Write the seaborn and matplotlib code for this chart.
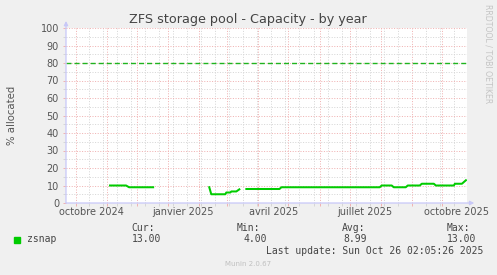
import numpy as np
import pandas as pd
import matplotlib
matplotlib.use("Agg")
import matplotlib.pyplot as plt
import matplotlib.dates as mdates
from matplotlib.patches import Rectangle
from matplotlib.transforms import blended_transform_factory
import seaborn as sns

# ---------------- data ----------------
title = "ZFS storage pool - Capacity - by year"
ylabel = "% allocated"
series_name = "zsnap"

seg1_dates = ["2024-11-04", "2024-11-20", "2024-11-23", "2024-12-17"]
seg1_values = [10, 10, 9, 9]

seg2_dates = ["2025-02-11", "2025-02-13", "2025-02-27", "2025-02-28",
              "2025-03-04", "2025-03-05", "2025-03-10", "2025-03-13"]
seg2_values = [9, 5, 5, 6, 6, 6.6, 6.6, 7.8]

seg3_dates = ["2025-03-20", "2025-04-22", "2025-04-24", "2025-07-31",
              "2025-08-02", "2025-08-12", "2025-08-14", "2025-08-26",
              "2025-08-28", "2025-09-09", "2025-09-11", "2025-09-23",
              "2025-09-25", "2025-10-13", "2025-10-14", "2025-10-21",
              "2025-10-25"]
seg3_values = [8, 8, 9, 9,
               10, 10, 9, 9,
               10, 10, 11, 11,
               10, 10, 11, 11,
               13]

warning_level = 80
x_start = "2024-09-21 02:05:26"
x_end = "2025-10-26 02:05:26"
y_major = list(range(0, 101, 10))
y_minor = list(range(5, 100, 10))
x_label_dates = ["2024-10-16", "2025-01-16", "2025-04-16", "2025-07-16", "2025-10-16"]
x_label_texts = ["octobre 2024", "janvier 2025", "avril 2025", "juillet 2025", "octobre 2025"]
minor_x_start = "2024-10-14"

stat_heads = ["Cur:", "Min:", "Avg:", "Max:"]
stat_values = ["13.00", "4.00", "8.99", "13.00"]
last_update = "Last update: Sun Oct 26 02:05:26 2025"
footer = "Munin 2.0.67"
watermark = "RRDTOOL / TOBI OETIKER"

# ---------------- build frame ----------------
frames = []
for i, (d, v) in enumerate([(seg1_dates, seg1_values),
                            (seg2_dates, seg2_values),
                            (seg3_dates, seg3_values)]):
    frames.append(pd.DataFrame({"date": pd.to_datetime(d), "value": v, "segment": i}))
df = pd.concat(frames, ignore_index=True)

# ---------------- figure ----------------
W, H = 497, 275
BG = "#F0F0F0"
fig = plt.figure(figsize=(W / 100, H / 100), dpi=100, facecolor=BG)

def fx(x):
    return x / W

def fy(y):
    return 1 - y / H

ax = fig.add_axes([fx(66), fy(203), 401 / W, 175 / H])
ax.set_facecolor("white")

MGRID = "#f0b2b2"
GRID = "#d6d6d6"
TXT = "#555555"

# grid
ax.set_ylim(0, 100)
ax.set_xlim(pd.Timestamp(x_start), pd.Timestamp(x_end))
ax.set_yticks(y_major)
ax.set_yticks(y_minor, minor=True)
ax.xaxis.set_major_locator(mdates.MonthLocator())
minor_x = pd.date_range(minor_x_start, x_end, freq="14D")
ax.xaxis.set_minor_locator(matplotlib.ticker.FixedLocator(mdates.date2num(minor_x)))

ax.grid(which="minor", color=GRID, lw=0.72, ls=(0, (1, 1.6)))
ax.grid(which="major", color=MGRID, lw=0.72, ls=(0, (1, 1.6)))
ax.set_axisbelow(True)

ax.tick_params(axis="y", which="major", length=2, width=0.7, color=MGRID,
               labelsize=7, labelcolor=TXT, pad=3)
ax.tick_params(axis="y", which="minor", length=2, width=0.7, color=GRID)
ax.tick_params(axis="x", which="major", length=2, width=0.7, color=MGRID, labelbottom=False)
ax.tick_params(axis="x", which="minor", length=2, width=0.7, color=GRID, labelbottom=False)
ax.set_yticklabels([str(v) for v in y_major])

for s in ax.spines.values():
    s.set_visible(False)

# warning line
ax.axhline(warning_level, color="#1fb41f", lw=1.0, dashes=(3.6, 2.2), zorder=2)

# data line
sns.lineplot(data=df, x="date", y="value", units="segment", estimator=None,
             color="#00CC00", lw=1.45, ax=ax, legend=False, zorder=3)
ax.set_xlabel("")
ax.set_ylabel("")

# axis arrows
AX = "#c8c8f8"
ax.annotate("", xy=(0, 1.04), xytext=(0, 0), xycoords="axes fraction",
            arrowprops=dict(arrowstyle="-|>", color=AX, lw=0.9, mutation_scale=6,
                            shrinkA=0, shrinkB=0), annotation_clip=False)
ax.annotate("", xy=(1.018, 0), xytext=(0, 0), xycoords="axes fraction",
            arrowprops=dict(arrowstyle="-|>", color=AX, lw=0.9, mutation_scale=6,
                            shrinkA=0, shrinkB=0), annotation_clip=False)

# x labels
tr = blended_transform_factory(ax.transData, ax.transAxes)
for d, t in zip(x_label_dates, x_label_texts):
    ax.text(mdates.date2num(pd.Timestamp(d)), -4 / 175, t, transform=tr,
            ha="center", va="top", fontsize=7, color=TXT)

# title & labels
fig.text(fx(248), fy(19), title, ha="center", va="center", fontsize=9.2, color="#444444")
fig.text(fx(12), fy(115), ylabel, rotation=90, ha="center", va="center",
         fontsize=7.3, color=TXT)
fig.text(fx(488), fy(54), watermark, rotation=-90, ha="center", va="center",
         fontsize=5.6, color="#c4c4c4")

# legend block
fig.patches.append(Rectangle((fx(14), fy(242.5)), 6 / W, 5.5 / H,
                             transform=fig.transFigure, color="#00CC00"))
MONO = dict(family="DejaVu Sans Mono", fontsize=7, color="#444444", va="center", ha="left")
fig.text(fx(27), fy(239.5), series_name, **MONO)
head_x = [131.7, 237.0, 342.3, 446.7]
val_x = [131.7, 243.3, 343.3, 447.3]
for hx, vx, h, v in zip(head_x, val_x, stat_heads, stat_values):
    fig.text(fx(hx), fy(228), h, **MONO)
    fig.text(fx(vx), fy(239.5), v, **MONO)
fig.text(fx(483), fy(251), last_update, **{**MONO, "ha": "right"})
fig.text(fx(248), fy(264), footer, ha="center", va="center", fontsize=5, color="#c0c0c0")

fig.savefig("out.png", dpi=100, facecolor=BG)
